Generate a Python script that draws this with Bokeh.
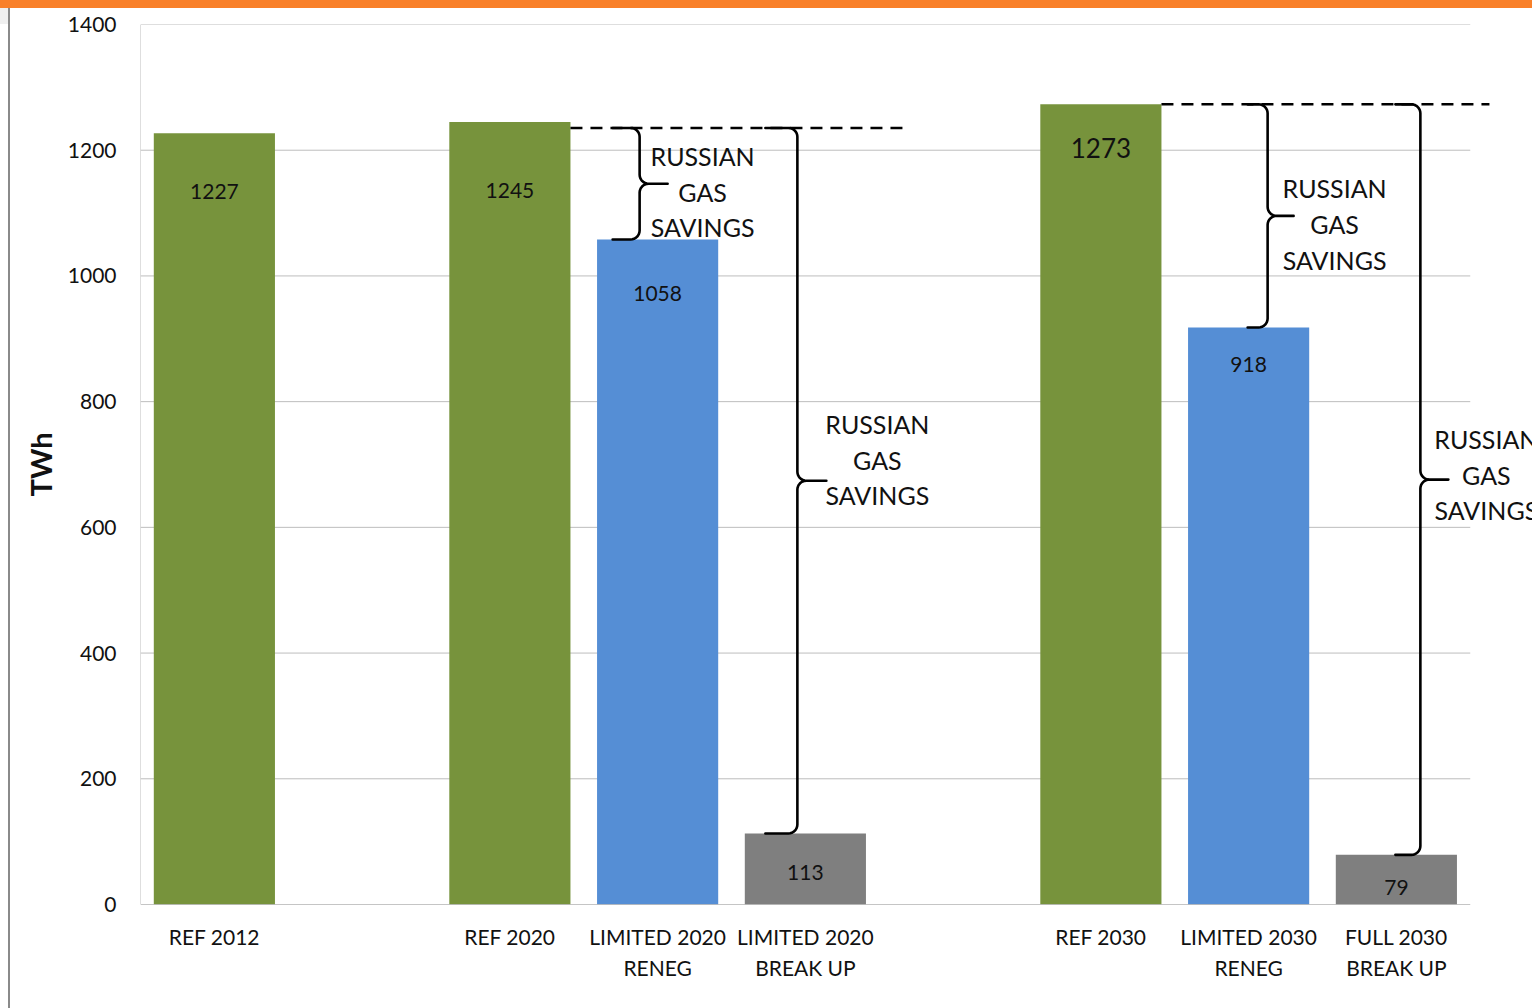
import math
from bokeh.plotting import figure
from bokeh.layouts import column, row
from bokeh.models import FixedTicker, ColumnDataSource, Div
from bokeh.core.properties import value
from bokeh.embed import file_html
from bokeh.resources import INLINE

# ---------------- data ----------------
categories = ["REF 2012", "REF 2020", "LIMITED 2020\nRENEG", "LIMITED 2020\nBREAK UP",
              "REF 2030", "LIMITED 2030\nRENEG", "FULL 2030\nBREAK UP"]
groups = ["2012", "2020", "2020", "2020", "2030", "2030", "2030"]
scenario = ["REF", "REF", "LIMITED", "BREAK", "REF", "LIMITED", "BREAK"]
twh = [1227, 1245, 1058, 113, 1273, 918, 79]
y_ticks = [0, 200, 400, 600, 800, 1000, 1200, 1400]
brace_label = "RUSSIAN\nGAS\nSAVINGS"

# ---------------- style ----------------
FONT = "Lato"
COLORS = {"REF": "#77933C", "LIMITED": "#558ED5", "BREAK": "#7F7F7F"}
PX_X = 147.75            # pixels per category slot
PX_Y = 880.0 / 1400.0    # pixels per TWh
BAR_W = 0.82
label_drop_px = [58, 69, 54, 39, 44, 37, 33]
label_size = ["21px", "21px", "21px", "21px", "26px", "21px", "21px"]

# category positions with one empty slot between year groups
pos = []
gap = 0
prev = None
for i, g in enumerate(groups):
    if prev is not None and g != prev:
        gap += 1
    pos.append(i + gap + 0.5)
    prev = g
x_end_grid = pos[-1] + 0.5

# ---------------- main figure ----------------
p = figure(width=1522, height=1000, x_range=(0, 1392 / PX_X), y_range=(0, y_ticks[-1]),
           output_backend="svg", toolbar_location=None,
           min_border_left=130, min_border_right=0, min_border_top=16, min_border_bottom=104,
           outline_line_color=None, background_fill_color="white", border_fill_color="white")
p.xgrid.visible = False
p.ygrid.visible = False

# gridlines, frame line, baseline
for yt in y_ticks[1:]:
    p.segment(x0=[0], y0=[yt], x1=[x_end_grid], y1=[yt], line_color="#BDBDBD", line_width=1)
p.segment(x0=[0], y0=[0], x1=[0], y1=[y_ticks[-1]], line_color="#BDBDBD", line_width=1)

src = ColumnDataSource(dict(
    x=pos, top=twh, color=[COLORS[s] for s in scenario],
    ly=[v - d / PX_Y for v, d in zip(twh, label_drop_px)],
    txt=[str(v) for v in twh], size=label_size))
p.vbar(x="x", top="top", width=BAR_W, fill_color="color", line_color=None, source=src)
p.segment(x0=[0], y0=[0], x1=[x_end_grid], y1=[0], line_color="#8C8C8C", line_width=1.2)

p.text(x="x", y="ly", text="txt", text_font_size="size", text_font=value(FONT),
       text_align="center", text_baseline="middle", text_color="#111111", source=src)

# dashed reference lines and braces
def arc(cx, cy, a0, a1, rx, ry, n=8):
    pts = []
    for k in range(n + 1):
        a = math.radians(a0 + (a1 - a0) * k / n)
        pts.append((cx + rx * math.cos(a), cy + ry * math.sin(a)))
    return pts

def brace(xv, xe, xt, yt, yb, r=9):
    rx, ry = r / PX_X, r / PX_Y
    ym = (yt + yb) / 2
    pts = [(xe, yt)]
    pts += arc(xv - rx, yt - ry, 90, 0, rx, ry)
    pts += arc(xv + rx, ym + ry, 180, 270, rx, ry)
    pts += [(xt, ym)]
    pts += arc(xv + rx, ym - ry, 90, 180, rx, ry)
    pts += arc(xv - rx, yb + ry, 0, -90, rx, ry)
    pts += [(xe, yb)]
    return [q[0] for q in pts], [q[1] for q in pts]

# (ref bar index, dash drop px, dash end px beyond ref bar edge)
dash_specs = [(1, 6, 333), (4, 0, 328)]
dash_level = {}
for ri, drop, ext in dash_specs:
    lvl = twh[ri] - drop / PX_Y
    dash_level[ri] = lvl
    x0 = pos[ri] + BAR_W / 2
    p.line(x=[x0, x0 + ext / PX_X], y=[lvl, lvl], line_color="black", line_width=2.5,
           line_dash="12 8")

# (ref idx, scenario idx, vertical px, end px, tip px, text dx px, text dy px) relative to scenario bar center
brace_specs = [
    (1, 2, -18, -45, 10, 45, -8),
    (1, 3, -8, -40, 21, 72, 21),
    (4, 5, 19, -1, 45, 86, -8),
    (4, 6, 24, -1, 52, 90, 5),
]
tx, ty = [], []
for ri, si, v, e, t, dx, dy in brace_specs:
    xc = pos[si]
    yt = dash_level[ri]
    yb = twh[si]
    bx, by = brace(xc + v / PX_X, xc + e / PX_X, xc + t / PX_X, yt, yb)
    p.line(x=bx, y=by, line_color="black", line_width=2.6, line_join="round", line_cap="round")
    tx.append(xc + dx / PX_X)
    ty.append((yt + yb) / 2 + dy / PX_Y)
p.text(x=tx, y=ty, text=[brace_label] * len(tx), text_font=value(FONT), text_font_size="25px",
       text_align="center", text_baseline="middle", text_line_height=1.19, text_color="#111111")

# axes
p.yaxis.ticker = FixedTicker(ticks=y_ticks)
p.yaxis.axis_line_color = None
p.yaxis.major_tick_line_color = None
p.yaxis.minor_tick_line_color = None
p.yaxis.major_tick_out = 0
p.yaxis.major_tick_in = 0
p.yaxis.major_label_text_font = FONT
p.yaxis.major_label_text_font_size = "21px"
p.yaxis.major_label_text_color = "#111111"
p.yaxis.major_label_standoff = 24
p.yaxis.axis_label = "TWh"
p.yaxis.axis_label_text_font = FONT
p.yaxis.axis_label_text_font_size = "29px"
p.yaxis.axis_label_text_font_style = "bold"
p.yaxis.axis_label_text_color = "#111111"
p.yaxis.axis_label_standoff = 7

p.xaxis.ticker = FixedTicker(ticks=pos)
p.xaxis.major_label_overrides = {x: c for x, c in zip(pos, categories)}
p.xaxis.axis_line_color = None
p.xaxis.major_tick_line_color = None
p.xaxis.minor_tick_line_color = None
p.xaxis.major_tick_out = 0
p.xaxis.major_tick_in = 0
p.xaxis.major_label_text_font = FONT
p.xaxis.major_label_text_font_size = "21px"
p.xaxis.major_label_text_color = "#111111"
p.xaxis.major_label_text_line_height = 1.25
p.xaxis.major_label_standoff = 19

# ---------------- window decorations ----------------
top = Div(text="", width=1532, height=8, margin=0,
          styles={"background-color": "#F98029"})
left = Div(text="", width=10, height=1000, margin=0,
           styles={"background": "linear-gradient(#EFEFEF, #EFEFEF) 0 0 / 8px 16px no-repeat, "
                                 "linear-gradient(to right, #FFFFFF 0px, #FFFFFF 8px, #8A8A8A 8px, #8A8A8A 10px)"})

layout = column(top, row(left, p, spacing=0), spacing=0)
open("out.html", "w").write(file_html(layout, INLINE))
